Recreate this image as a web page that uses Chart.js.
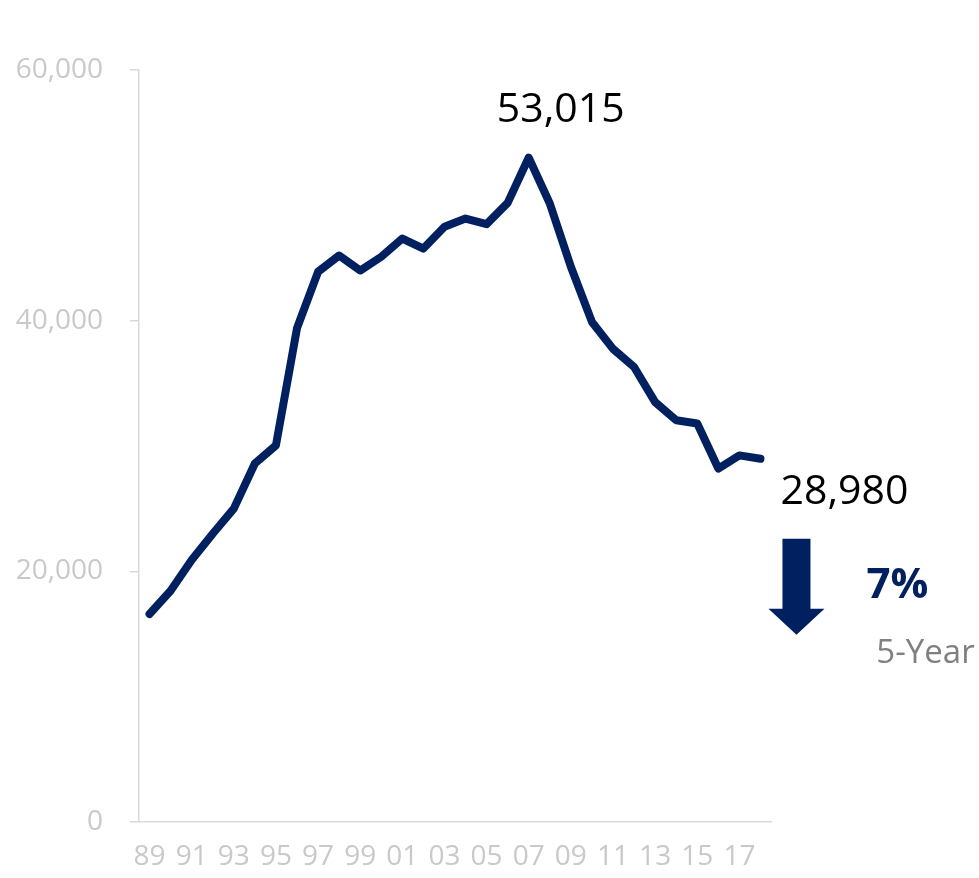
<!DOCTYPE html>
<html>
<head>
<meta charset="utf-8">
<script src="https://cdn.jsdelivr.net/npm/chart.js@4.4.1/dist/chart.umd.min.js"></script>
<style>
  html, body { margin: 0; padding: 0; background: #ffffff; }
  canvas { display: block; }
</style>
</head>
<body>
<canvas id="c" width="979" height="878"></canvas>
<script>
// ---- Data ----
const years = ['89','90','91','92','93','94','95','96','97','98','99','00','01','02','03','04','05','06','07','08','09','10','11','12','13','14','15','16','17','18'];
const values = [16600,18450,20900,23000,25000,28600,30050,39400,43900,45200,44000,45100,46550,45750,47500,48150,47700,49400,53015,49350,44300,39900,37750,36300,33500,32050,31800,28200,29250,28980];
const xTickLabels = ['89','91','93','95','97','99','01','03','05','07','09','11','13','15','17'];
const yTicks = [0, 20000, 40000, 60000];
const peakLabel = '53,015';
const lastLabel = '28,980';
const changeLabel = '7%';
const changePeriod = '5-Year';

const NAVY = '#002060';
const AXIS = '#d9d9d9';
const TICKTXT = '#c9c9c9';

const annotations = {
  id: 'annotations',
  afterDraw(chart) {
    const ctx = chart.ctx;
    const xs = chart.scales.x, ys = chart.scales.y;
    const peakIdx = values.indexOf(Math.max(...values));
    const lastIdx = values.length - 1;
    ctx.save();
    ctx.textAlign = 'center';
    ctx.textBaseline = 'alphabetic';
    // peak label
    ctx.fillStyle = '#000000';
    ctx.font = '41px "Open Sans"';
    ctx.fillText(peakLabel, xs.getPixelForValue(peakIdx) + 32, ys.getPixelForValue(values[peakIdx]) - 36);
    // last label
    const lx = xs.getPixelForValue(lastIdx), ly = ys.getPixelForValue(values[lastIdx]);
    ctx.fillText(lastLabel, lx + 84, ly + 45);
    // arrow
    ctx.fillStyle = NAVY;
    ctx.beginPath();
    ctx.moveTo(lx + 22, ly + 80);
    ctx.lineTo(lx + 50, ly + 80);
    ctx.lineTo(lx + 50, ly + 150);
    ctx.lineTo(lx + 64, ly + 150);
    ctx.lineTo(lx + 36, ly + 176);
    ctx.lineTo(lx + 8, ly + 150);
    ctx.lineTo(lx + 22, ly + 150);
    ctx.closePath();
    ctx.fill();
    // change
    ctx.font = 'bold 42px "Open Sans"';
    ctx.fillText(changeLabel, lx + 137, ly + 139);
    ctx.fillStyle = '#808080';
    ctx.font = '33px "Open Sans"';
    ctx.fillText(changePeriod, lx + 165, ly + 204);
    ctx.restore();
  }
};

new Chart(document.getElementById('c'), {
  type: 'line',
  data: {
    labels: years,
    datasets: [{
      data: values,
      borderColor: NAVY,
      borderWidth: 8,
      borderCapStyle: 'round',
      borderJoinStyle: 'round',
      pointRadius: 0,
      tension: 0,
      fill: false
    }]
  },
  options: {
    responsive: false,
    animation: false,
    layout: { padding: { left: 0, right: 208, top: 70, bottom: 0 } },
    plugins: { legend: { display: false }, tooltip: { enabled: false } },
    scales: {
      x: {
        offset: true,
        grid: { display: false, drawOnChartArea: false, drawTicks: false },
        border: { display: true, color: AXIS, width: 1.5 },
        ticks: {
          autoSkip: false, maxRotation: 0, minRotation: 0, padding: 18,
          color: TICKTXT,
          font: { family: '"Open Sans"', size: 28 },
          callback: function(v, i) { const l = years[i]; return xTickLabels.includes(l) ? l : ''; }
        },
        afterFit: s => { s.height = 56; }
      },
      y: {
        min: 0, max: 60000,
        afterBuildTicks: s => { s.ticks = yTicks.map(v => ({ value: v })); },
        grid: { display: true, drawOnChartArea: false, drawTicks: true, tickLength: 9, color: AXIS, lineWidth: 1.5 },
        border: { display: true, color: AXIS, width: 1.5 },
        ticks: {
          padding: 27,
          color: TICKTXT,
          font: { family: '"Open Sans"', size: 28 },
          callback: v => v.toLocaleString('en-US')
        },
        afterFit: s => { s.width = 139; }
      }
    }
  },
  plugins: [annotations]
});
</script>
</body>
</html>
